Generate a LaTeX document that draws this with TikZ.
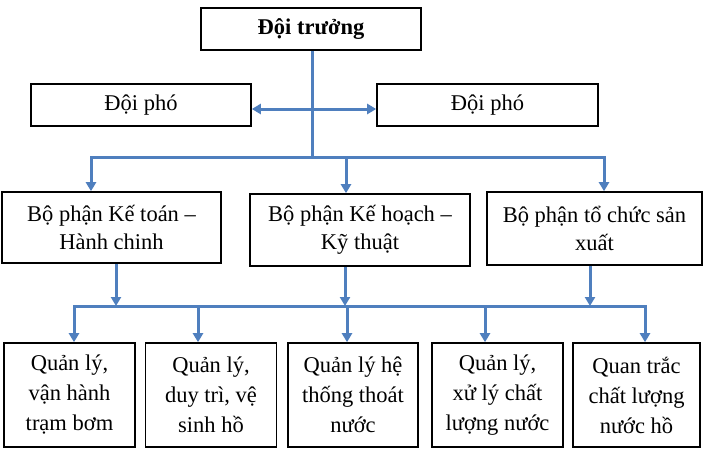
\documentclass[tikz,border=0pt]{standalone}
\usepackage{fontspec}
\setmainfont{Liberation Serif}
\usetikzlibrary{arrows.meta}
\definecolor{linkblue}{HTML}{4F7FBE}
\begin{document}
\begin{tikzpicture}[x=1pt,y=-1pt,
  box/.style={draw=black, line width=1.6pt, fill=white, align=center, inner sep=0pt},
  midtext/.style={font=\fontsize{22.5}{28}\selectfont},
  lowtext/.style={font=\fontsize{22.5}{30}\selectfont},
  link/.style={draw=linkblue, line width=3pt},
  tip/.tip={Triangle[length=9pt,width=10pt]},
  arr/.style={link, -tip},
]
\useasboundingbox (0,0) rectangle (703,453);

% junction points on the two distribution bars
\coordinate (t1) at (312,157);
\coordinate (b1L) at (91,157);
\coordinate (b1M) at (346,157);
\coordinate (b1R) at (604,157);
\coordinate (b2L) at (74,306);
\coordinate (b2R) at (645,306);
\coordinate (u1) at (116,306);
\coordinate (u2) at (345,306);
\coordinate (u3) at (590,306);
\coordinate (d2) at (198,306);
\coordinate (d3) at (347,306);
\coordinate (d4) at (485,306);

% boxes
\node[box, minimum width=220, minimum height=42, font=\fontsize{22.5}{26}\selectfont\bfseries] (truong) at (311,29) {Đội trưởng};
\node[box, minimum width=220, minimum height=42, midtext] (phoL) at (141,105) {Đội phó};
\node[box, minimum width=221, minimum height=42, midtext] (phoR) at (487.5,105) {Đội phó};

\node[box, minimum width=219, minimum height=71, midtext] (kt) at (111.5,227.5) {Bộ phận Kế toán –\\Hành chinh};
\node[box, minimum width=220, minimum height=72, midtext] (kh) at (360,230) {Bộ phận Kế hoạch –\\Kỹ thuật};
\node[box, minimum width=215, minimum height=73, midtext] (sx) at (594.5,228.5) {Bộ phận tổ chức sản\\xuất};

\node[box, minimum width=131, minimum height=104, lowtext] (q1) at (69.5,395) {Quản lý,\\vận hành\\trạm bơm};
\node[box, minimum width=131, minimum height=104, lowtext] (q2) at (211,395) {Quản lý,\\duy trì, vệ\\sinh hồ};
\node[box, minimum width=130, minimum height=104, lowtext] (q3) at (353,395) {Quản lý hệ\\thống thoát\\nước};
\node[box, minimum width=131, minimum height=104, lowtext] (q4) at (497.5,395) {Quản lý,\\xử lý chất\\lượng nước};
\node[box, minimum width=127, minimum height=104, lowtext] (q5) at (636.5,395) {Quan trắc\\chất lượng\\nước hồ};

% level 1 links
\draw[link] (truong.south -| t1) -- (t1);
\draw[link, tip-tip] ([yshift=-4pt]phoL.east) -- ([yshift=-4pt]phoR.west);
\draw[link, line cap=rect] (b1L) -- (b1R);
\draw[arr] (b1L) -- (b1L |- kt.north);
\draw[arr] (b1M) -- (b1M |- kh.north);
\draw[arr] (b1R) -- (b1R |- sx.north);

% level 2 links
\draw[arr] (u1 |- kt.south) -- (u1);
\draw[arr] (u2 |- kh.south) -- (u2);
\draw[arr] (u3 |- sx.south) -- (u3);
\draw[link, line cap=rect] (b2L) -- (b2R);
\draw[arr] (b2L) -- (b2L |- q1.north);
\draw[arr] (d2) -- (d2 |- q2.north);
\draw[arr] (d3) -- (d3 |- q3.north);
\draw[arr] (d4) -- (d4 |- q4.north);
\draw[arr] (b2R) -- (b2R |- q5.north);
\end{tikzpicture}
\end{document}
